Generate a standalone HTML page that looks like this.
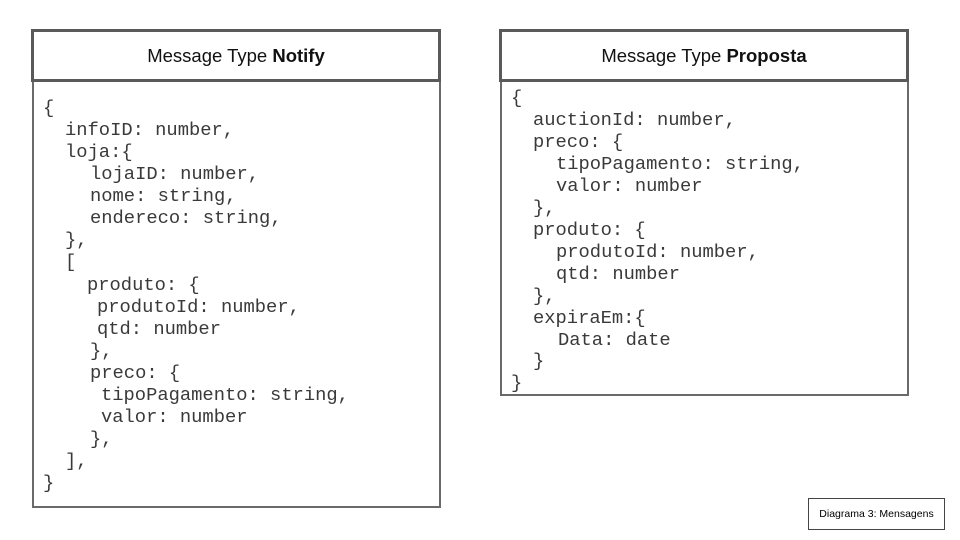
<!DOCTYPE html>
<html><head><meta charset="utf-8"><style>
body{margin:0;width:960px;height:540px;background:#fff;position:relative;overflow:hidden;font-family:"Liberation Sans",sans-serif}
.h{position:absolute;box-sizing:border-box;border:3px solid #5a5a5a;background:#fff;display:flex;align-items:center;justify-content:center;font-size:18.5px;color:#111}
.b{position:absolute;box-sizing:border-box;border:2px solid #6a6a6a;border-top:none;background:#fff}
.l{position:absolute;font-family:"Liberation Mono",monospace;font-size:18.8px;line-height:22px;white-space:pre;color:#3a3a3a;transform:translateY(-11px)}
.tag{position:absolute;left:808px;top:498px;width:137px;height:32px;box-sizing:border-box;border:1px solid #444;font-size:10.5px;display:flex;align-items:center;justify-content:center}
</style></head><body>
<div class="h" style="left:31px;top:29px;width:410px;height:53px">Message Type&nbsp;<b>Notify</b></div>
<div class="b" style="left:32px;top:82px;width:409px;height:426px"></div>
<div class="h" style="left:499px;top:29px;width:410px;height:53px">Message Type&nbsp;<b>Proposta</b></div>
<div class="b" style="left:500px;top:82px;width:409px;height:314px"></div>

<div class="l" style="left:43px;top:108px">{</div>
<div class="l" style="left:65px;top:130px">infoID: number,</div>
<div class="l" style="left:65px;top:152px">loja:{</div>
<div class="l" style="left:90px;top:174px">lojaID: number,</div>
<div class="l" style="left:90px;top:196px">nome: string,</div>
<div class="l" style="left:90px;top:218px">endereco: string,</div>
<div class="l" style="left:65px;top:240px">},</div>
<div class="l" style="left:65px;top:262px">[</div>
<div class="l" style="left:87px;top:285px">produto: {</div>
<div class="l" style="left:97px;top:307px">produtoId: number,</div>
<div class="l" style="left:97px;top:329px">qtd: number</div>
<div class="l" style="left:90px;top:351px">},</div>
<div class="l" style="left:90px;top:373px">preco: {</div>
<div class="l" style="left:101px;top:395px">tipoPagamento: string,</div>
<div class="l" style="left:101px;top:417px">valor: number</div>
<div class="l" style="left:90px;top:439px">},</div>
<div class="l" style="left:65px;top:461px">],</div>
<div class="l" style="left:43px;top:483px">}</div>

<div class="l" style="left:511px;top:98px">{</div>
<div class="l" style="left:533px;top:120px">auctionId: number,</div>
<div class="l" style="left:533px;top:142px">preco: {</div>
<div class="l" style="left:556px;top:164px">tipoPagamento: string,</div>
<div class="l" style="left:556px;top:186px">valor: number</div>
<div class="l" style="left:533px;top:208px">},</div>
<div class="l" style="left:533px;top:230px">produto: {</div>
<div class="l" style="left:556px;top:252px">produtoId: number,</div>
<div class="l" style="left:556px;top:274px">qtd: number</div>
<div class="l" style="left:533px;top:296px">},</div>
<div class="l" style="left:533px;top:318px">expiraEm:{</div>
<div class="l" style="left:558px;top:340px">Data: date</div>
<div class="l" style="left:533px;top:361px">}</div>
<div class="l" style="left:511px;top:383px">}</div>

<div class="tag">Diagrama 3: Mensagens</div>
</body></html>
